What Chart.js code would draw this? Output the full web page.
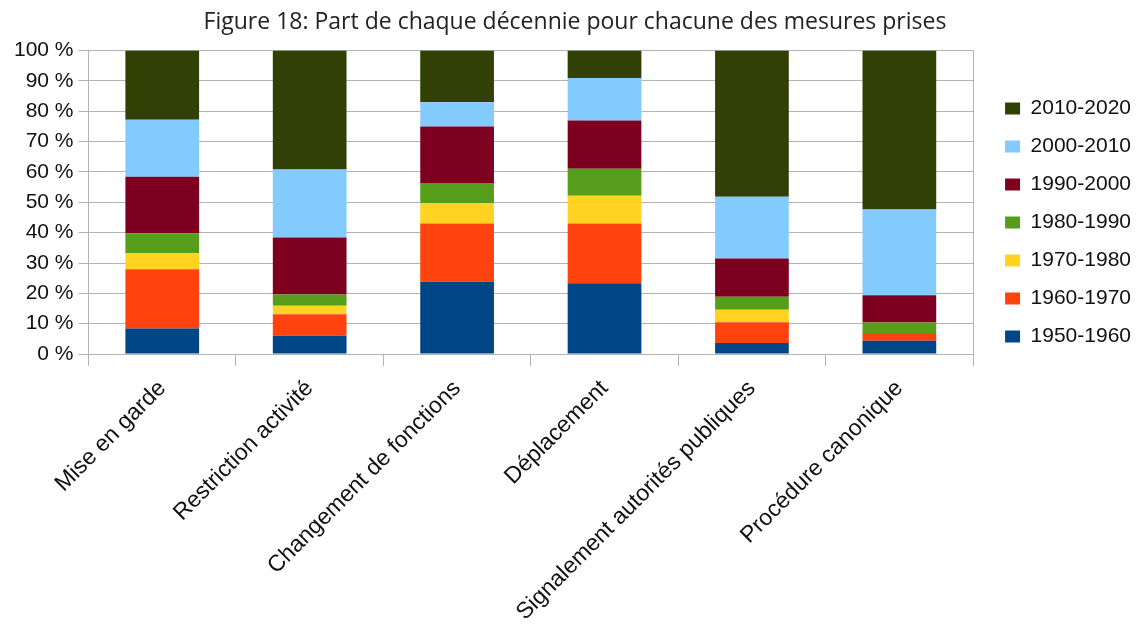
<!DOCTYPE html>
<html>
<head>
<meta charset="utf-8">
<script src="https://cdn.jsdelivr.net/npm/chart.js@4/dist/chart.umd.min.js"></script>
<style>
    html, body { margin: 0; padding: 0; background: #fff; overflow: hidden; }
    #wrap { position: relative; width: 1141px; height: 635px; }
</style>
</head>
<body>
<div id="wrap"><canvas id="chartMain"></canvas></div>
<script>
const mesures = ['Mise en garde', 'Restriction activité', 'Changement de fonctions', 'Déplacement', 'Signalement autorités publiques', 'Procédure canonique'];
const decennies = ['1950-1960', '1960-1970', '1970-1980', '1980-1990', '1990-2000', '2000-2010', '2010-2020'];
const couleurs = ['#004586', '#ff420e', '#ffd320', '#579d1c', '#7e0021', '#83caff', '#314004'];

// part (%) de chaque décennie, une liste par décennie
const d1950 = [8.4, 6.0, 23.8, 23.3, 3.6, 4.4];
const d1960 = [19.5, 7.1, 19.2, 19.7, 6.9, 2.5];
const d1970 = [5.3, 2.8, 6.8, 9.2, 4.1, 0];
const d1980 = [6.6, 3.7, 6.6, 8.9, 4.3, 3.5];
const d1990 = [18.6, 18.8, 18.6, 15.9, 12.6, 9.0];
const d2000 = [18.8, 22.4, 8.0, 14.0, 20.3, 28.2];
const d2010 = [22.8, 39.2, 17.0, 9.0, 48.2, 52.4];
const valeurs = [d1950, d1960, d1970, d1980, d1990, d2000, d2010];

const yTicks = [0, 10, 20, 30, 40, 50, 60, 70, 80, 90, 100];

const gris = '#b3b3b3';
const police = "'Liberation Sans', Arial, sans-serif";

new Chart(document.getElementById('chartMain'), {
    type: 'bar',
    data: {
        labels: mesures,
        datasets: decennies.map((d, i) => ({
            label: d, data: valeurs[i], backgroundColor: couleurs[i],
            borderWidth: 0, categoryPercentage: 1, barPercentage: 0.5
        }))
    },
    options: {
        responsive: true, maintainAspectRatio: false, animation: false,
        layout: { padding: { left: 9, right: 0, top: 0, bottom: 0 } },
        plugins: {
            title: {
                display: true,
                text: 'Figure 18: Part de chaque décennie pour chacune des mesures prises',
                color: '#222', font: { family: "'Open Sans', sans-serif", size: 23, weight: 'normal' },
                padding: { top: 9, bottom: 14 }
            },
            legend: {
                position: 'right', align: 'start', reverse: true,
                title: { display: true, text: ' ', font: { size: 10 }, padding: { top: 0, bottom: 69 } },
                labels: { boxWidth: 15, boxHeight: 12, padding: 17, color: '#111', font: { family: police, size: 21 } }
            },
            tooltip: { mode: 'index' }
        },
        scales: {
            x: {
                stacked: true,
                grid: { display: true, drawOnChartArea: false, drawTicks: true, tickLength: 12, color: gris, offset: true },
                border: { color: gris },
                ticks: { autoSkip: false, minRotation: 45, maxRotation: 45, padding: 9, color: '#111', font: { family: police, size: 23 } }
            },
            y: {
                stacked: true, min: 0, max: 100,
                afterBuildTicks: s => { s.ticks = yTicks.map(v => ({ value: v })); },
                grid: { color: gris, tickLength: 10 },
                border: { color: gris },
                ticks: { padding: 5, color: '#111', font: { family: police, size: 21 }, callback: v => v + ' %' }
            },
            y2: {
                position: 'right', display: true,
                grid: { display: false }, border: { display: true, color: gris },
                ticks: { display: false },
                afterFit: s => { s.width = 15; }
            }
        }
    }
});
</script>
</body>
</html>
